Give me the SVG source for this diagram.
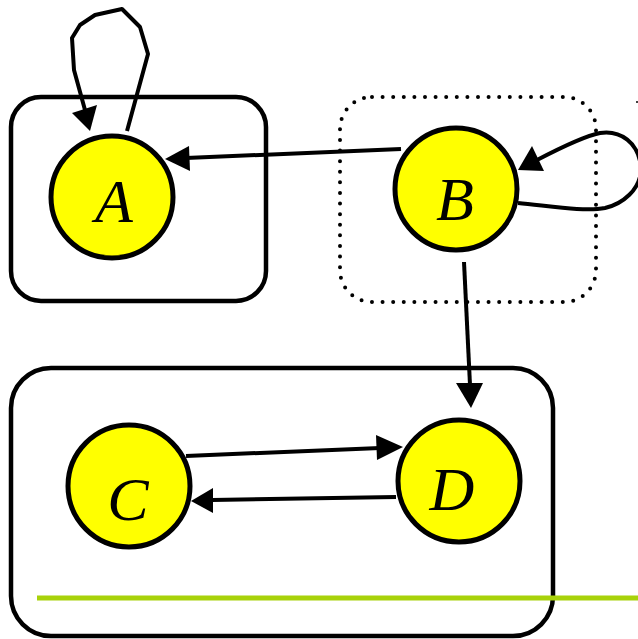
<svg xmlns="http://www.w3.org/2000/svg" width="638" height="639" viewBox="0 0 638 639">
  <style>
    .box { fill: none; stroke: #000; stroke-width: 4.5; }
    .dotted { fill: none; stroke: #000; stroke-width: 4; stroke-linecap: round; stroke-dasharray: 0 10.6; }
    .node { fill: #ffff00; stroke: #000; stroke-width: 5; }
    .label { font-family: "Liberation Serif", "Times New Roman", serif; font-style: italic; font-size: 62px; text-anchor: middle; fill: #000; }
    .edge { fill: none; stroke: #000; stroke-width: 4; stroke-linejoin: round; }
    .head { fill: #000; stroke: none; }
  </style>
  <rect width="638" height="639" fill="#fff"/>

  <!-- containers -->
  <g id="groups">
    <rect id="group-a" class="box" x="11" y="97" width="255" height="204" rx="30" ry="30"/>
    <rect id="group-b" class="dotted" x="340" y="97" width="256" height="205" rx="32" ry="32"/>
    <rect id="group-cd" class="box" x="11" y="368" width="542" height="268" rx="40" ry="40"/>
  </g>

  <!-- connectors -->
  <g id="connectors">
    <!-- A self loop -->
    <polyline class="edge" points="127,131 148,54 140,27 122,9 95,15 80,25 72,38 74,70 85,110"/>
    <polygon class="head" points="90,131 72,113 97,105"/>
    <!-- B to A -->
    <line class="edge" x1="401" y1="149" x2="186" y2="158"/>
    <polygon class="head" points="165,159 189,146 190,171"/>
    <!-- B self loop -->
    <path class="edge" d="M518,203 C550,206 585,212 605,208 C622,204 641,190 641,168 C639,142 620,130 600,133 C585,136 560,148 537,160"/>
    <polygon class="head" points="518,170 532,146 544,171"/>
    <!-- B to D -->
    <line class="edge" x1="464" y1="262" x2="470" y2="385"/>
    <polygon class="head" points="471,408 456,383 483,383"/>
    <!-- C to D -->
    <line class="edge" x1="186" y1="456" x2="380" y2="448"/>
    <polygon class="head" points="403,447 376,435 377,460"/>
    <!-- D to C -->
    <line class="edge" x1="396" y1="497" x2="212" y2="500"/>
    <polygon class="head" points="191,501 213,488 213,513"/>
  </g>

  <!-- nodes -->
  <g id="node-a">
    <circle class="node" cx="112" cy="197" r="61"/>
    <text class="label" x="114" y="222">A</text>
  </g>
  <g id="node-b">
    <circle class="node" cx="456" cy="189" r="61"/>
    <text class="label" x="455" y="220">B</text>
  </g>
  <g id="node-c">
    <circle class="node" cx="129" cy="486" r="61"/>
    <text class="label" x="128" y="520">C</text>
  </g>
  <g id="node-d">
    <circle class="node" cx="459" cy="481" r="61"/>
    <text class="label" x="452" y="510">D</text>
  </g>

  <!-- baseline rule -->
  <line x1="37" y1="598" x2="638" y2="598" stroke="#a8d20a" stroke-width="5"/>
  <line x1="636" y1="102" x2="638" y2="102" stroke="#000" stroke-width="1.5"/>
</svg>
